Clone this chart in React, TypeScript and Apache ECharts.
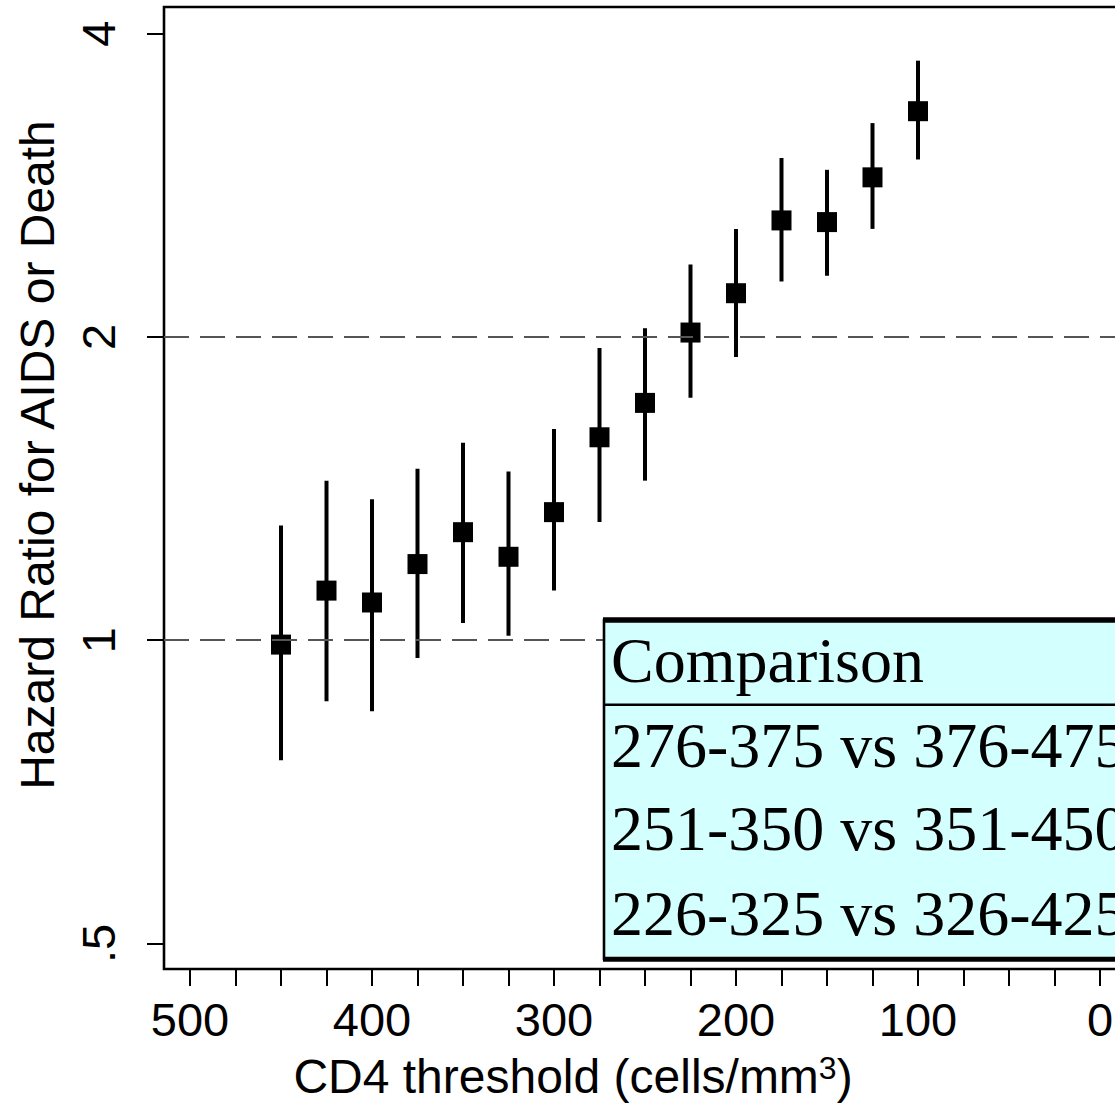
import React, { useEffect, useRef } from 'react';
import * as echarts from 'echarts';

// CD4 thresholds (cells/mm3)
const thresholds = [450, 425, 400, 375, 350, 325, 300, 275, 250, 225, 200, 175, 150, 125, 100];
// Hazard ratio estimates and 95% CI
const hazardRatio = [0.99, 1.12, 1.09, 1.19, 1.28, 1.21, 1.34, 1.59, 1.72, 2.02, 2.21, 2.61, 2.60, 2.88, 3.35];
const ciLower = [0.76, 0.87, 0.85, 0.96, 1.04, 1.01, 1.12, 1.31, 1.44, 1.74, 1.91, 2.27, 2.30, 2.56, 3.00];
const ciUpper = [1.30, 1.44, 1.38, 1.48, 1.57, 1.47, 1.62, 1.95, 2.04, 2.36, 2.56, 3.01, 2.93, 3.26, 3.76];

// axis ticks
const xTickLabels = [500, 400, 300, 200, 100, 0];
const xTickMarks = [500, 475, 450, 425, 400, 375, 350, 325, 300, 275, 250, 225, 200, 175, 150, 125, 100, 75, 50, 25, 0];
const yTickValues = [0.5, 1, 2, 4];
const yTickLabels = ['.5', '1', '2', '4'];
const refLines = [1, 2];

// table
const tableHeader = 'Comparison';
const tableRows = ['276-375 vs 376-475', '251-350 vs 351-450', '226-325 vs 326-425'];

const SANS = '"Liberation Sans", Arial, Helvetica, sans-serif';
const SERIF = '"Liberation Serif", "Times New Roman", Times, serif';

export default function App() {
  const ref = useRef<HTMLDivElement>(null);

  useEffect(() => {
    if (!ref.current) return;
    const chart = echarts.init(ref.current, null, { renderer: 'svg' });

    const X_MIN = -14.29;
    const X_MAX = 514.29;
    const Y_MIN = -1.0841;
    const Y_MAX = 2.0877;

    const barData = thresholds.map((t, i) => [t, Math.log2(ciLower[i]), Math.log2(ciUpper[i])]);
    const pointData = thresholds.map((t, i) => [t, Math.log2(hazardRatio[i])]);

    const tableGraphics: any[] = [
      {
        type: 'rect',
        z: 100,
        shape: { x: 604, y: 620, width: 800, height: 339 },
        style: { fill: '#d4ffff', stroke: '#000', lineWidth: 2.6 },
      },
      {
        type: 'line',
        z: 101,
        shape: { x1: 603, y1: 620, x2: 1400, y2: 620 },
        style: { stroke: '#000', lineWidth: 5.5 },
      },
      {
        type: 'line',
        z: 101,
        shape: { x1: 603, y1: 959.2, x2: 1400, y2: 959.2 },
        style: { stroke: '#000', lineWidth: 5 },
      },
      {
        type: 'line',
        z: 101,
        shape: { x1: 604, y1: 704.7, x2: 1400, y2: 704.7 },
        style: { stroke: '#000', lineWidth: 2.6 },
      },
      {
        type: 'text',
        z: 102,
        x: 611,
        y: 660.4,
        style: {
          text: tableHeader,
          font: `64px ${SERIF}`,
          fill: '#000',
          textAlign: 'left',
          textVerticalAlign: 'middle',
        },
      },
      ...tableRows.map((r, i) => ({
        type: 'text',
        z: 102,
        x: 611,
        y: [745.4, 828.4, 913.4][i],
        style: {
          text: r,
          font: `64px ${SERIF}`,
          fill: '#000',
          textAlign: 'left',
          textVerticalAlign: 'middle',
        },
      })),
    ];

    const option: any = {
      animation: false,
      backgroundColor: '#fff',
      textStyle: { fontFamily: SANS },
      grid: {
        left: 164,
        top: 7,
        width: 962,
        height: 962,
        show: true,
        borderColor: '#000',
        borderWidth: 2.6,
        backgroundColor: 'transparent',
        containLabel: false,
      },
      xAxis: {
        type: 'value',
        inverse: true,
        min: X_MIN,
        max: X_MAX,
        axisLine: { show: false, onZero: false },
        splitLine: { show: false },
        axisTick: {
          show: true,
          inside: false,
          length: 17,
          customValues: xTickMarks,
          lineStyle: { color: '#000', width: 2 },
        },
        axisLabel: {
          show: true,
          customValues: xTickLabels,
          margin: 27,
          fontSize: 47,
          color: '#000',
          fontFamily: SANS,
          formatter: (v: number) => String(Math.round(v)),
        },
      },
      yAxis: {
        type: 'value',
        min: Y_MIN,
        max: Y_MAX,
        axisLine: { show: false, onZero: false },
        splitLine: { show: false },
        axisTick: {
          show: true,
          inside: false,
          length: 17,
          customValues: yTickValues.map((v) => Math.log2(v)),
          lineStyle: { color: '#000', width: 2 },
        },
        axisLabel: {
          show: true,
          customValues: yTickValues.map((v) => Math.log2(v)),
          rotate: 90,
          margin: 42,
          fontSize: 47,
          color: '#000',
          fontFamily: SANS,
          formatter: (v: number) => {
            const i = yTickValues.findIndex((t) => Math.abs(Math.log2(t) - v) < 1e-6);
            return i >= 0 ? yTickLabels[i] : '';
          },
        },
      },
      series: [
        {
          type: 'line',
          data: [],
          z: 1,
          silent: true,
          markLine: {
            silent: true,
            symbol: ['none', 'none'],
            label: { show: false },
            lineStyle: { type: [25, 11], color: '#555', width: 1.8, opacity: 1 },
            emphasis: { disabled: true },
            data: refLines.map((r) => [
              { coord: [X_MAX, Math.log2(r)] },
              { coord: [X_MIN, Math.log2(r)] },
            ]),
          },
        },
        {
          type: 'custom',
          z: 2,
          silent: true,
          data: barData,
          encode: { x: 0, y: [1, 2] },
          renderItem: (params: any, api: any) => {
            const p1 = api.coord([api.value(0), api.value(1)]);
            const p2 = api.coord([api.value(0), api.value(2)]);
            return {
              type: 'line',
              shape: { x1: p1[0], y1: p1[1], x2: p2[0], y2: p2[1] },
              style: { stroke: '#000', lineWidth: 4 },
            };
          },
        },
        {
          type: 'scatter',
          z: 3,
          silent: true,
          symbol: 'rect',
          symbolSize: 20,
          itemStyle: { color: '#000', opacity: 1 },
          data: pointData,
        },
      ],
      graphic: [
        ...tableGraphics,
        {
          type: 'text',
          z: 102,
          x: 37,
          y: 455,
          rotation: Math.PI / 2,
          style: {
            text: 'Hazard Ratio for AIDS or Death',
            font: `48px ${SANS}`,
            fill: '#000',
            textAlign: 'center',
            textVerticalAlign: 'middle',
          },
        },
        {
          type: 'text',
          z: 102,
          x: 573,
          y: 1076,
          style: {
            text: '{a|CD4 threshold (cells/mm}{b|3}{a|)}',
            textAlign: 'center',
            textVerticalAlign: 'middle',
            fill: '#000',
            rich: {
              a: { fontSize: 48, fontFamily: SANS, fill: '#000', lineHeight: 48 },
              b: { fontSize: 32, fontFamily: SANS, fill: '#000', verticalAlign: 'top', lineHeight: 32 },
            },
          },
        },
      ],
    };

    chart.setOption(option);
    return () => chart.dispose();
  }, []);

  return (
    <div
      style={{
        position: 'fixed',
        left: 0,
        top: 0,
        width: 1115,
        height: 1103,
        overflow: 'hidden',
        background: '#fff',
      }}
    >
      <div ref={ref} style={{ width: 1300, height: 1103 }} />
    </div>
  );
}
